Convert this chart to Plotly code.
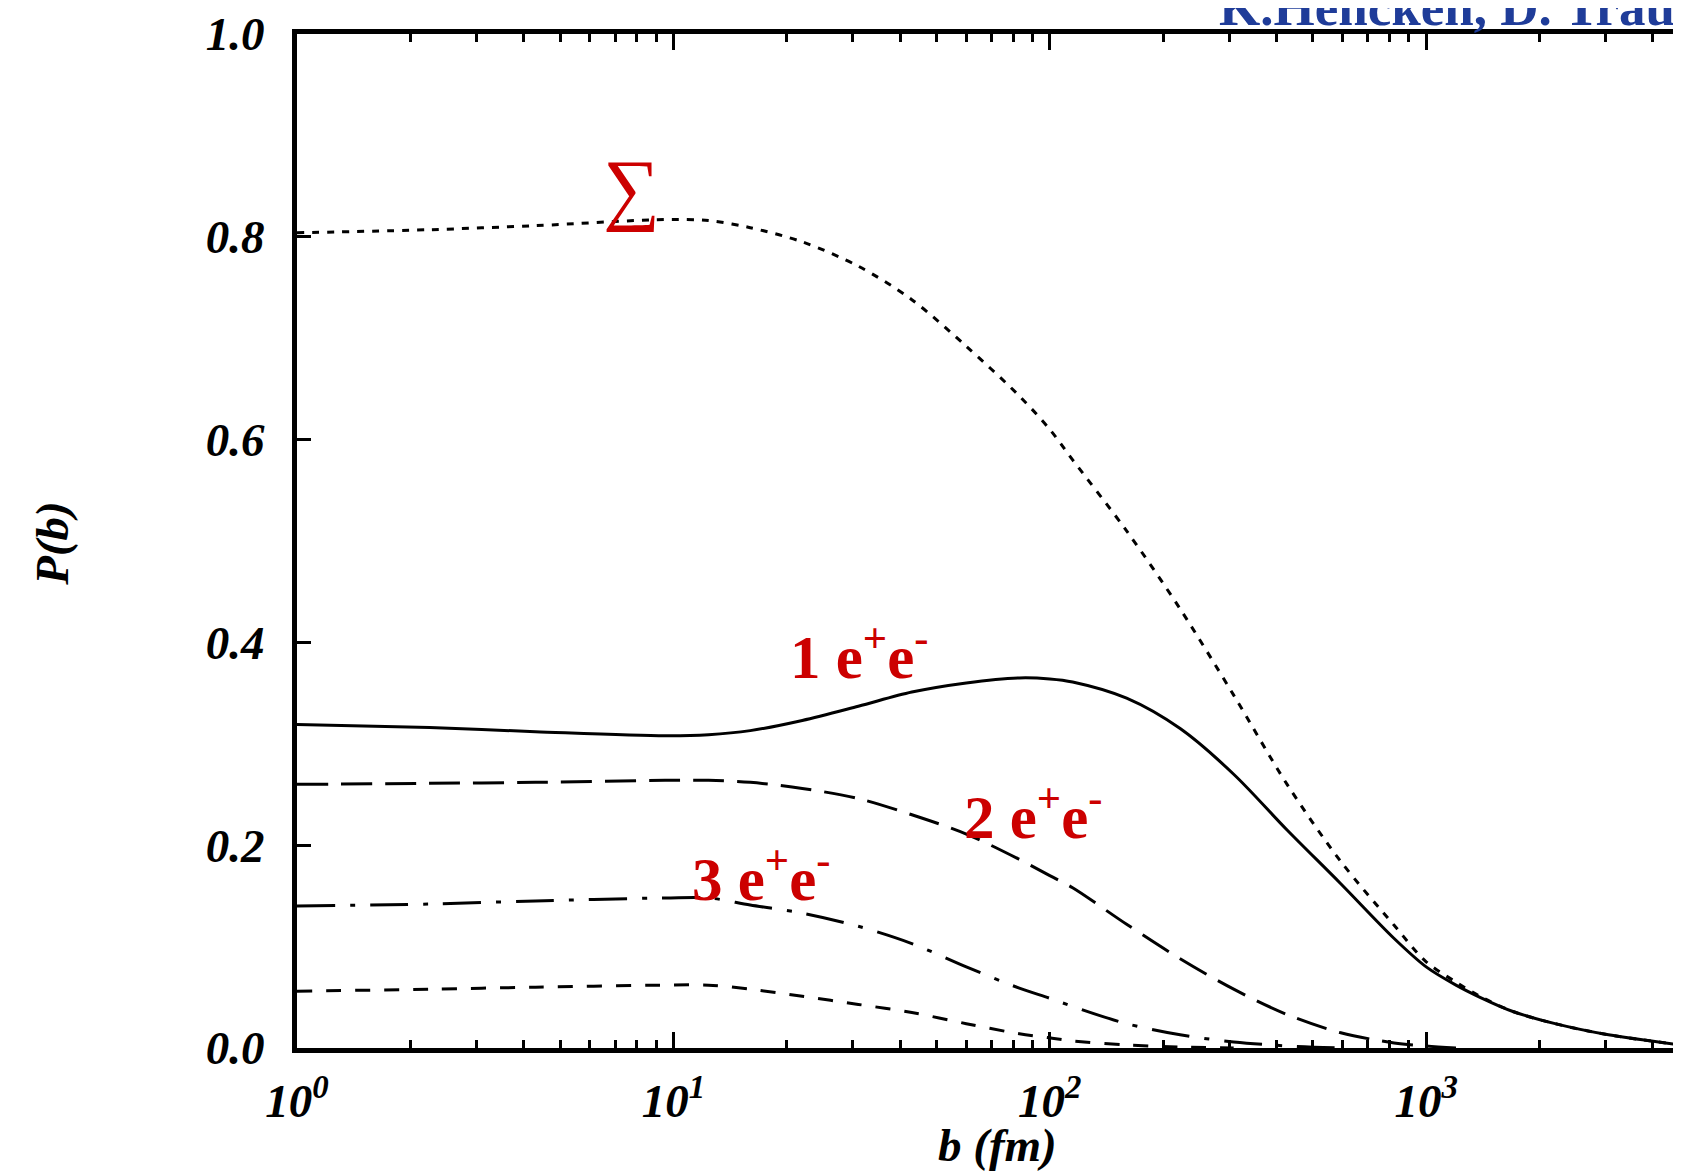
import plotly.graph_objects as go

# impact parameter b (fm)
b = [1, 2.25, 4.3, 9.5, 12.4, 16, 22, 31, 43, 60, 83, 100, 115, 160, 222, 308,
     427, 593, 822, 1000, 1200, 1390, 1700, 2200, 3050, 4760]

p_sum = [0.804, 0.807, 0.811, 0.817, 0.816, 0.809, 0.795, 0.771, 0.738, 0.692, 0.643,
         0.610, 0.580, 0.510, 0.433, 0.348, 0.260, 0.184, 0.121, 0.085, 0.065, 0.051,
         0.036, 0.024, 0.013, 0.003]
p_one = [0.319, 0.316, 0.312, 0.308, 0.309, 0.313, 0.323, 0.337, 0.351, 0.360, 0.365,
         0.364, 0.361, 0.345, 0.315, 0.270, 0.215, 0.162, 0.108, 0.080, 0.062, 0.050,
         0.036, 0.024, 0.013, 0.003]
p_two = [0.260, 0.261, 0.262, 0.264, 0.264, 0.262, 0.256, 0.246, 0.230, 0.211, 0.186,
         0.170, 0.158, 0.122, 0.088, 0.058, 0.033, 0.015, 0.005, 0.002, 0.0]
p_three = [0.140, 0.142, 0.145, 0.148, 0.148, 0.141, 0.133, 0.120, 0.103, 0.080, 0.059,
           0.049, 0.041, 0.024, 0.013, 0.006, 0.002, 0.0]
p_four = [0.056, 0.058, 0.060, 0.062, 0.062, 0.058, 0.051, 0.043, 0.035, 0.024, 0.014,
          0.010, 0.007, 0.003, 0.001, 0.0]

x_tickvals = [1, 10, 100, 1000]
x_ticktext = ["10<sup>0</sup>", "10<sup>1</sup>", "10<sup>2</sup>", "10<sup>3</sup>"]
y_tickvals = [0.0, 0.2, 0.4, 0.6, 0.8, 1.0]
y_ticktext = ["0.0", "0.2", "0.4", "0.6", "0.8", "1.0"]
minor_vals = [m * 10 ** e for e in range(4) for m in range(2, 10)]

SERIF = "Liberation Serif"
RED = "#cc0000"

series = [
    (p_sum, "7px,8px"),
    (p_one, "solid"),
    (p_two, "31px,13px"),
    (p_three, "38px,15px,5px,15px"),
    (p_four, "15px,14px"),
]

fig = go.Figure()
for vals, dash in series:
    fig.add_trace(go.Scatter(
        x=b[:len(vals)], y=vals, mode="lines",
        line=dict(color="black", width=3, dash=dash, shape="spline", smoothing=0.9),
        showlegend=False, hoverinfo="skip"))

tickfont = dict(family=SERIF, size=47, color="black", weight="bold", style="italic")

# the page body adds an 8px offset, so the figure is 8px smaller than the window
fig.update_layout(
    width=1673, height=1167,
    margin=dict(l=289, r=0, t=22, b=127, pad=0),
    paper_bgcolor="white", plot_bgcolor="white",
    showlegend=False,
    xaxis=dict(
        type="log", range=[0, 3.677],
        tickmode="array", tickvals=x_tickvals, ticktext=x_ticktext,
        ticks="inside", ticklen=16, tickwidth=3, tickcolor="black",
        minor=dict(tickmode="array", tickvals=minor_vals, ticks="inside",
                   ticklen=8, tickwidth=3, tickcolor="black", showgrid=False),
        showline=True, linewidth=5, linecolor="black", mirror="ticks",
        showgrid=False, zeroline=False, tickfont=tickfont, ticklabelstandoff=8,
        ticklabeloverflow="allow",
    ),
    yaxis=dict(
        range=[0, 1],
        tickmode="array", tickvals=y_tickvals, ticktext=y_ticktext,
        ticks="inside", ticklen=14, tickwidth=3, tickcolor="black",
        showline=True, linewidth=5, linecolor="black", mirror=False,
        showgrid=False, zeroline=False, tickfont=tickfont, ticklabelstandoff=18,
        ticklabeloverflow="allow",
    ),
)

label_font = dict(family=SERIF, size=61, color=RED, weight="bold")
axis_title_font = dict(family=SERIF, size=47, color="black", weight="bold", style="italic")
annotations = [
    dict(text="\u2211", x=0.889, y=0.848, xref="x", yref="y", showarrow=False,
         xanchor="center", yanchor="middle",
         font=dict(family=SERIF, size=80, color=RED)),
    dict(text="1 e<sup>+</sup>e<sup>-</sup>", x=1.492, y=0.39, xref="x", yref="y",
         xanchor="center", yanchor="middle", showarrow=False, font=label_font),
    dict(text="2 e<sup>+</sup>e<sup>-</sup>", x=1.956, y=0.232, xref="x", yref="y",
         xanchor="center", yanchor="middle", showarrow=False, font=label_font),
    dict(text="3 e<sup>+</sup>e<sup>-</sup>", x=1.234, y=0.171, xref="x", yref="y",
         xanchor="center", yanchor="middle", showarrow=False, font=label_font),
    dict(text="P(b)", textangle=-90, x=-0.1772, y=0.498, xref="paper", yref="paper",
         xanchor="center", yanchor="middle", showarrow=False, font=axis_title_font),
    dict(text="b (fm)", x=1.861, y=-0.0953, xref="x", yref="paper",
         xanchor="center", yanchor="middle", showarrow=False, font=axis_title_font),
    dict(text="K.Hencken, D. Trautmann", x=0.665, y=0.996, xref="paper", yref="paper",
         xanchor="left", yanchor="bottom", showarrow=False,
         font=dict(family=SERIF, size=53, color="#1f3c99", weight="bold")),
]
fig.update_layout(annotations=annotations)

fig.write_html("out.html")
